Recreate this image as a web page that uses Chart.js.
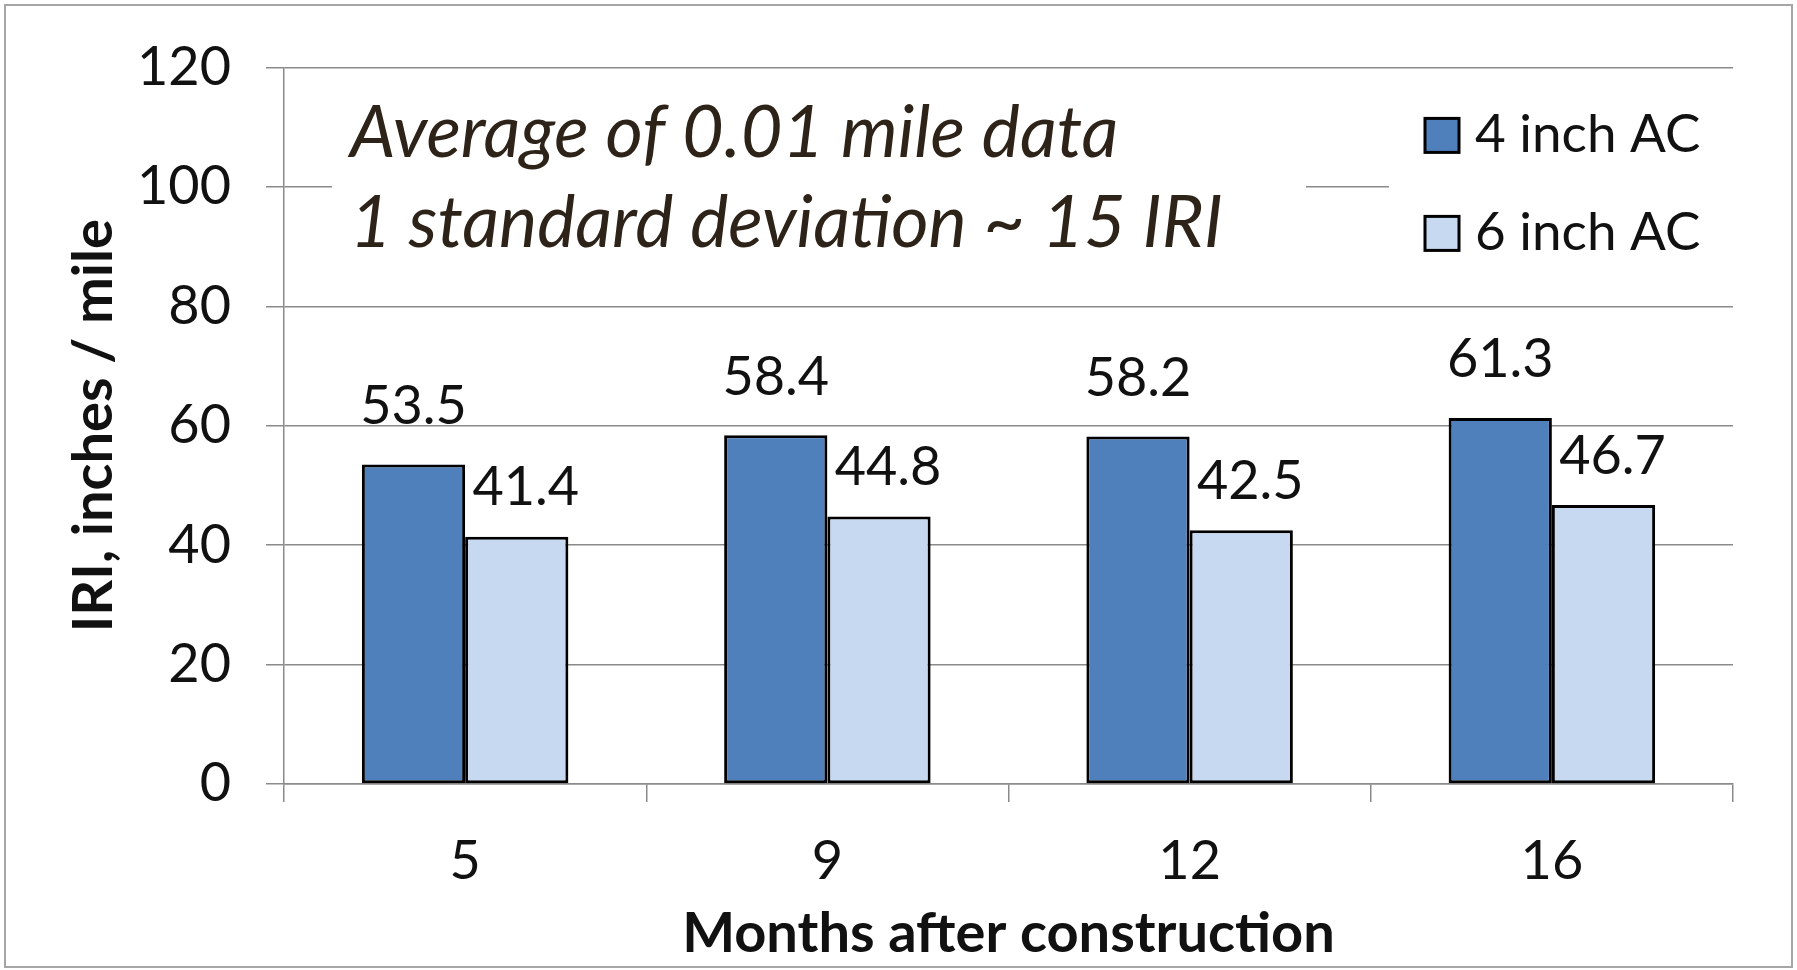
<!DOCTYPE html>
<html>
<head>
<meta charset="utf-8">
<script src="https://cdn.jsdelivr.net/npm/chart.js@4.4.1/dist/chart.umd.min.js"></script>
<style>
  html, body { margin: 0; padding: 0; background: #fff; }
  #wrap { width: 1797px; height: 970px; position: relative; }
</style>
</head>
<body>
<div id="wrap"><canvas id="grafico"></canvas></div>
<script>
const MONTHS = ['5', '9', '12', '16'];
const AC4 = [53.5, 58.4, 58.2, 61.3];
const AC6 = [41.4, 44.8, 42.5, 46.7];
const Y_TICKS = [0, 20, 40, 60, 80, 100, 120];
const NOTE = ['Average of 0.01 mile data', '1 standard deviation ~ 15 IRI'];

const FONT = 'Lato, "Open Sans", sans-serif';
const GRID = '#8a8a8a';

// bordo esterno, riquadri bianchi, etichette, nota e legenda
const extras = {
  id: 'extras',
  beforeDraw(chart) {
    const c = chart.ctx;
    c.save();
    c.fillStyle = '#fff';
    c.fillRect(0, 0, chart.width, chart.height);
    c.strokeStyle = '#a6a6a6';
    c.lineWidth = 2;
    c.strokeRect(5, 5, chart.width - 10, chart.height - 8);
    c.restore();
  },
  beforeDatasetsDraw(chart) {
    const c = chart.ctx;
    const a = chart.chartArea;
    c.save();
    c.fillStyle = '#fff';
    c.fillRect(a.left + 48, a.top + 15, 974, 212);      // riquadro nota
    c.fillRect(a.right - 344, a.top + 15, 344, 212);    // riquadro legenda
    c.restore();
  },
  afterDatasetsDraw(chart) {
    const c = chart.ctx;
    const a = chart.chartArea;
    c.save();
    c.font = '54px ' + FONT;
    c.fillStyle = '#111';
    c.textAlign = 'center';
    c.textBaseline = 'middle';
    chart.data.datasets.forEach((ds, i) => {
      chart.getDatasetMeta(i).data.forEach((bar, j) => {
        c.fillText(ds.data[j].toFixed(1), bar.x + ds.labelDx, bar.y - ds.labelDy);
      });
    });

    // nota in corsivo
    c.textAlign = 'left';
    c.font = 'italic 72px ' + FONT;
    c.fillStyle = '#2d2318';
    c.fillText(NOTE[0], a.left + 66, a.top + 66);
    c.fillText(NOTE[1], a.left + 66, a.top + 156);

    // legenda
    c.font = '53px ' + FONT;
    chart.data.datasets.forEach((ds, i) => {
      const y = a.top + 68 + i * 98;
      c.fillStyle = ds.backgroundColor;
      c.fillRect(a.right - 308, y - 17, 34, 34);
      c.strokeStyle = '#000';
      c.lineWidth = 3;
      c.strokeRect(a.right - 308, y - 17, 34, 34);
      c.fillStyle = '#111';
      c.fillText(ds.label, a.right - 258, y);
    });
    c.restore();
  }
};

new Chart(document.getElementById('grafico'), {
  type: 'bar',
  data: {
    labels: MONTHS,
    datasets: [
      {
        label: '4 inch AC',
        data: AC4,
        backgroundColor: '#4f80bc',
        borderColor: '#000',
        borderWidth: 3,
        borderSkipped: false,
        labelDx: 0,
        labelDy: 58
      },
      {
        label: '6 inch AC',
        data: AC6,
        backgroundColor: '#c6d9f0',
        borderColor: '#000',
        borderWidth: 3,
        borderSkipped: false,
        labelDx: 9,
        labelDy: 49
      }
    ]
  },
  options: {
    responsive: true,
    maintainAspectRatio: false,
    animation: false,
    layout: { padding: { top: 60, right: 64, left: 0, bottom: 0 } },
    datasets: { bar: { categoryPercentage: 0.57, barPercentage: 1.0 } },
    plugins: {
      legend: { display: false },
      tooltip: { enabled: false }
    },
    scales: {
      x: {
        afterFit: s => { s.height = 186; },
        grid: { offset: true, drawOnChartArea: false, drawTicks: true, tickLength: 18, color: GRID, lineWidth: 1.5 },
        border: { color: GRID, width: 1.5 },
        ticks: { color: '#111', font: { family: FONT, size: 54 }, padding: 27 },
        title: {
          display: true,
          text: 'Months after construction',
          color: '#111',
          font: { family: FONT, size: 56, weight: 'bold' },
          padding: { top: 0, bottom: 2 }
        }
      },
      y: {
        min: 0,
        max: 120,
        afterFit: s => { s.width = 284; },
        afterBuildTicks: s => { s.ticks = Y_TICKS.map(v => ({ value: v })); },
        grid: { drawTicks: true, tickLength: 18, color: GRID, lineWidth: 1.5 },
        border: { color: GRID, width: 1.5 },
        ticks: { color: '#111', font: { family: FONT, size: 54 }, padding: 35 },
        title: {
          display: true,
          text: 'IRI, inches / mile',
          color: '#111',
          font: { family: FONT, size: 56, weight: 'bold' },
          padding: { top: 60, bottom: 0 }
        }
      }
    }
  },
  plugins: [extras]
});
</script>
</body>
</html>
